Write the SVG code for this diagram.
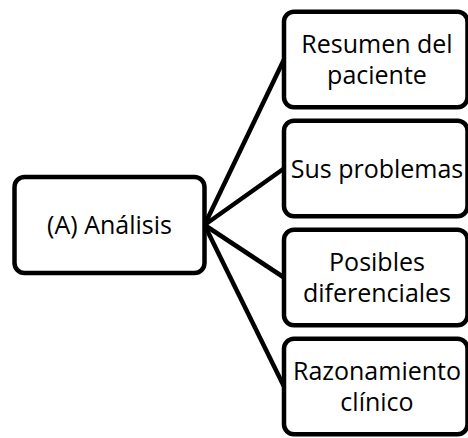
<svg xmlns="http://www.w3.org/2000/svg" width="468" height="438" viewBox="0 0 468 438">
  <style>
    .box { fill: #ffffff; stroke: #000000; stroke-width: 4.5; }
    .conn { stroke: #000000; stroke-width: 4.5; fill: none; }
    .lbl { font-family: "Open Sans", "Noto Sans", "Liberation Sans", sans-serif; font-size: 25px; fill: #000000; text-anchor: middle; }
  </style>
  <rect width="468" height="438" fill="#ffffff"/>
  <g id="connectors">
    <line class="conn" x1="204.5" y1="225" x2="284" y2="59.5"/>
    <line class="conn" x1="204.5" y1="225" x2="284" y2="168.5"/>
    <line class="conn" x1="204.5" y1="225" x2="284" y2="277.5"/>
    <line class="conn" x1="204.5" y1="225" x2="284" y2="386.5"/>
  </g>
  <g id="node-analisis">
    <rect class="box" x="14.5" y="177" width="190" height="96" rx="10"/>
    <text class="lbl" x="109.5" y="234">(A) Análisis</text>
  </g>
  <g id="node-resumen">
    <rect class="box" x="284" y="11.75" width="183.5" height="95.5" rx="10"/>
    <text class="lbl" x="377" y="53">Resumen del</text>
    <text class="lbl" x="377" y="84">paciente</text>
  </g>
  <g id="node-problemas">
    <rect class="box" x="284" y="120.75" width="183.5" height="95.5" rx="10"/>
    <text class="lbl" x="377" y="177.5">Sus problemas</text>
  </g>
  <g id="node-diferenciales">
    <rect class="box" x="284" y="229.75" width="183.5" height="95.5" rx="10"/>
    <text class="lbl" x="377" y="271">Posibles</text>
    <text class="lbl" x="377" y="302">diferenciales</text>
  </g>
  <g id="node-razonamiento">
    <rect class="box" x="284" y="338.75" width="183.5" height="95.5" rx="10"/>
    <text class="lbl" x="377" y="380">Razonamiento</text>
    <text class="lbl" x="377" y="411">clínico</text>
  </g>
</svg>
